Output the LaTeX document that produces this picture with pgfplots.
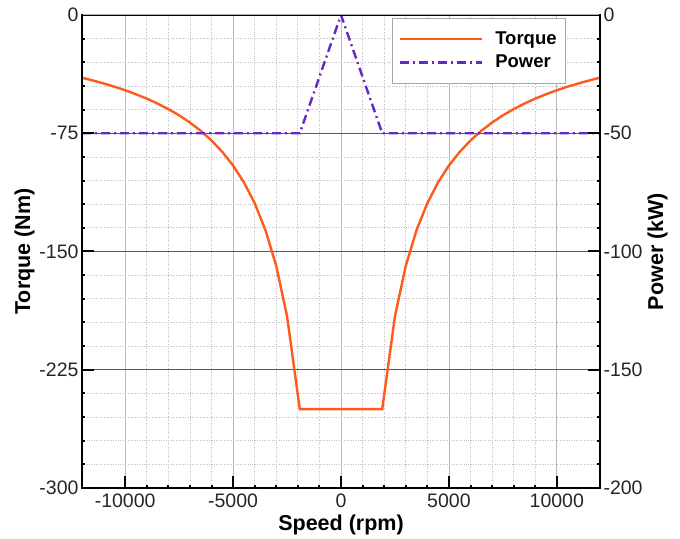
\documentclass[border=0pt]{standalone}
\usepackage{fontspec}
\setmainfont{Liberation Sans}
\usepackage{pgfplots}
\pgfplotsset{compat=1.18}
\definecolor{torquec}{RGB}{255,90,30}
\definecolor{powerc}{RGB}{100,40,200}
\begin{document}
\begin{tikzpicture}
\begin{axis}[name=ax,
  scale only axis, width=518pt, height=473pt,
  xmin=-12000, xmax=12000, ymin=-300, ymax=0,
  scaled x ticks=false, scaled y ticks=false,
  /pgf/number format/assume math mode=true,
  /pgf/number format/1000 sep={},
  tick label style={font=\fontsize{19.5}{22}\selectfont, text=black!85},
  label style={font=\fontsize{21.5}{24}\selectfont\bfseries},
  axis line style={draw=gray!60, line width=0.8pt},
  xtick pos=bottom, ytick pos=left,
  xtick={-10000,-5000,0,5000,10000}, ytick={-300,-225,-150,-75,0},
  minor x tick num=4, minor y tick num=4,
  grid=both,
  major x grid style={gray!55, line width=0.8pt},
  major y grid style={black!65, line width=0.8pt},
  minor grid style={gray!50, dotted, line width=0.7pt},
  xlabel={Speed (rpm)}, ylabel={Torque (Nm)},
  xlabel style={yshift=-1pt}, ylabel style={yshift=-2pt},
  xticklabel style={yshift=-2pt},
]
\addplot[torquec, line width=2.4pt] coordinates {
(-12000,-39.79) (-11500,-41.52) (-11000,-43.41) (-10500,-45.47) (-10000,-47.75)
(-9500,-50.26) (-9000,-53.05) (-8500,-56.17) (-8000,-59.68) (-7500,-63.66)
(-7000,-68.21) (-6500,-73.46) (-6000,-79.58) (-5500,-86.81) (-5000,-95.49)
(-4500,-106.10) (-4000,-119.37) (-3500,-136.42) (-3000,-159.16) (-2500,-190.99)
(-1910,-250) (1910,-250)
(2500,-190.99) (3000,-159.16) (3500,-136.42) (4000,-119.37) (4500,-106.10)
(5000,-95.49) (5500,-86.81) (6000,-79.58) (6500,-73.46) (7000,-68.21)
(7500,-63.66) (8000,-59.68) (8500,-56.17) (9000,-53.05) (9500,-50.26)
(10000,-47.75) (10500,-45.47) (11000,-43.41) (11500,-41.52) (12000,-39.79)
};
\end{axis}
\begin{axis}[
  scale only axis, width=518pt, height=473pt,
  xmin=-12000, xmax=12000, ymin=-200, ymax=0,
  /pgf/number format/assume math mode=true,
  tick label style={font=\fontsize{19.5}{22}\selectfont, text=black!85},
  label style={font=\fontsize{21.5}{24}\selectfont\bfseries},
  axis line style={draw=none},
  hide x axis,
  ytick pos=right, yticklabel pos=right,
  ytick={-200,-150,-100,-50,0}, minor y tick num=4,
  ylabel={Power (kW)}, ylabel style={yshift=2pt},
  legend style={at={(0.934,0.994)}, anchor=north east, draw=gray!70,
    font=\fontsize{18.5}{22}\selectfont\bfseries, legend cell align=left,
    inner xsep=7pt, inner ysep=12pt, row sep=5pt,
    /tikz/every odd column/.append style={column sep=10pt}},
  legend image code/.code={\draw[#1] (0pt,0pt) -- (82pt,0pt);},
]
\addlegendimage{torquec, line width=2.4pt}
\addlegendentry{Torque}
\addplot[powerc, line width=2.4pt, dash pattern=on 9pt off 4pt on 2pt off 4pt] coordinates {
(-12000,-50) (-1910,-50) (0,0) (1910,-50) (12000,-50)
};
\addlegendentry{Power}
\end{axis}
\begin{axis}[
  scale only axis, width=518pt, height=473pt,
  xmin=-12000, xmax=12000, ymin=-300, ymax=0,
  scaled x ticks=false, scaled y ticks=false,
  xtick={-10000,-5000,0,5000,10000}, ytick={-300,-225,-150,-75,0},
  minor x tick num=4, minor y tick num=4,
  xtick pos=bottom, ytick pos=both,
  tick align=inside,
  every tick/.style={black, line width=2pt},
  major tick length=12pt,
  xticklabels={}, yticklabels={},
]
\end{axis}
\draw[gray!60, line width=1pt] (ax.north west) -- (ax.north east);
\draw[black, line width=1.8pt, line cap=rect] (ax.north west) -- (ax.south west) -- (ax.south east) -- (ax.north east);
\path ([shift={(-82pt,-45pt)}]ax.south west) rectangle ([shift={(80pt,15pt)}]ax.north east);
\end{tikzpicture}
\end{document}
